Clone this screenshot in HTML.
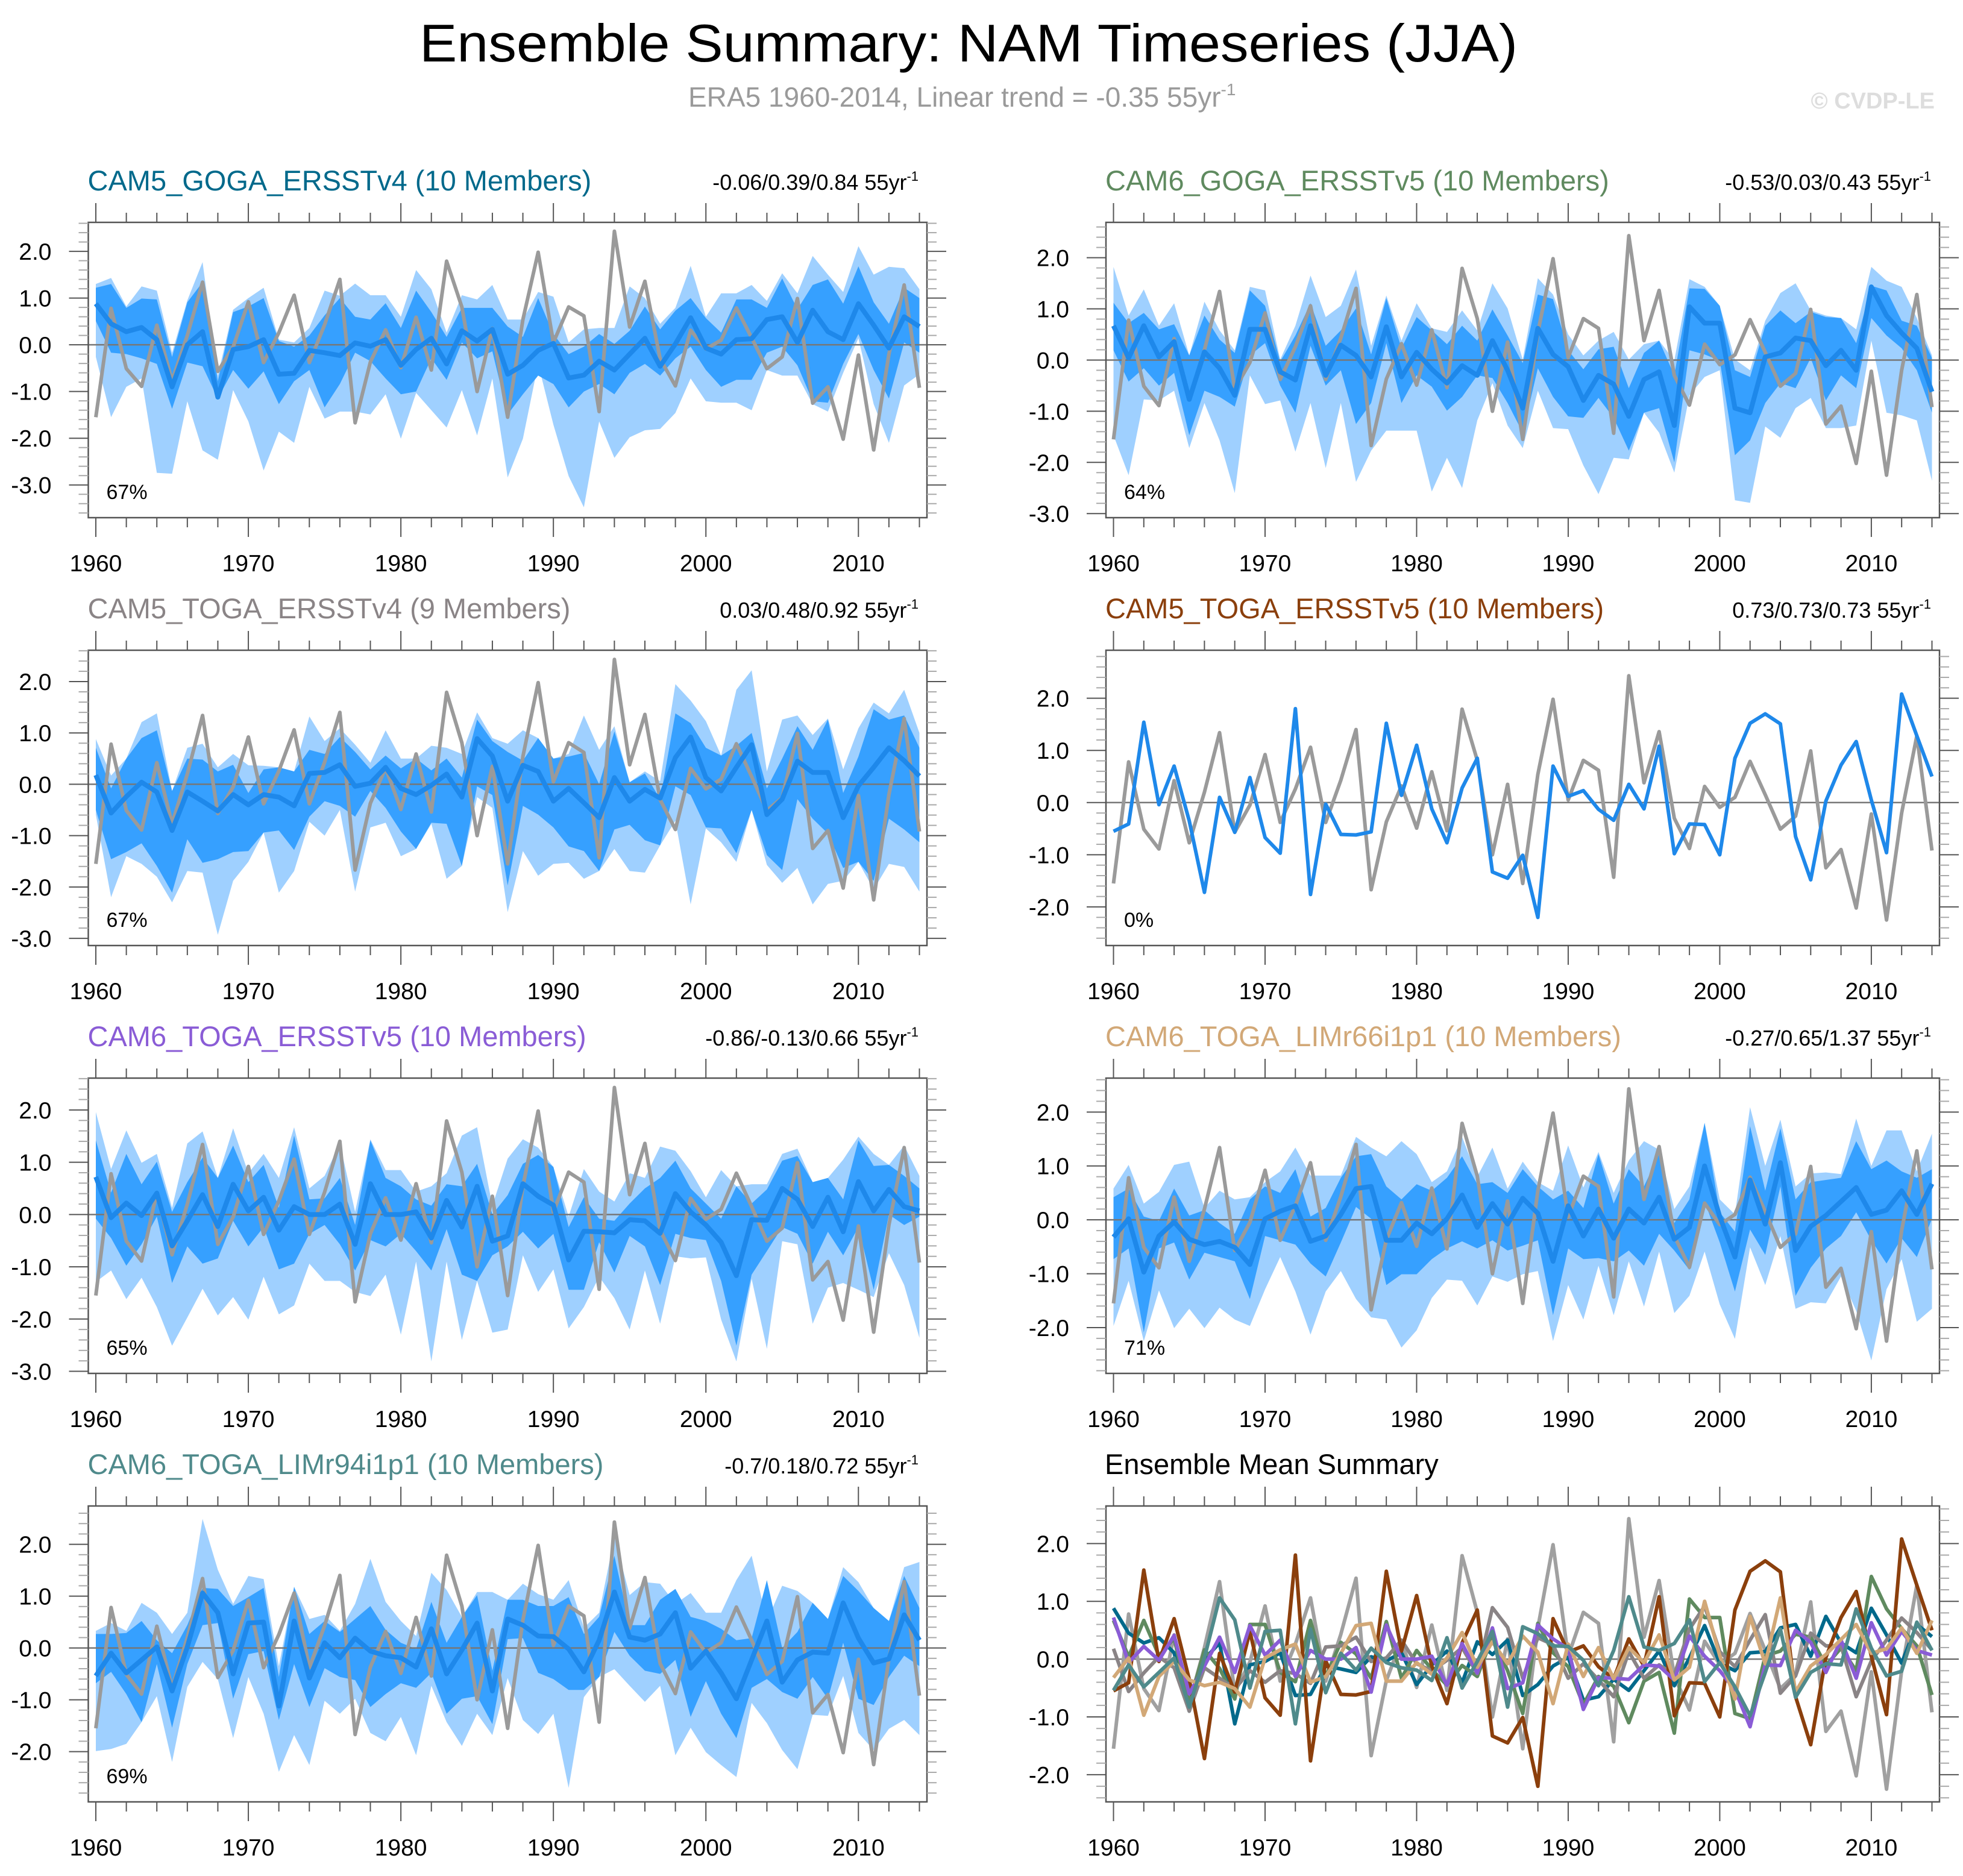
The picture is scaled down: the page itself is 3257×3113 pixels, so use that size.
<!DOCTYPE html>
<html><head><meta charset="utf-8"><title>Ensemble Summary: NAM Timeseries (JJA)</title>
<style>html,body{margin:0;padding:0;background:#fff}svg{display:block}text{font-family:"Liberation Sans",Arial,sans-serif}</style></head>
<body>
<svg id="chart" xmlns="http://www.w3.org/2000/svg" width="3257" height="3113" viewBox="0 0 3257 3113">
<rect width="3257" height="3113" fill="#fff"/>
<text x="696" y="102" font-size="88" textLength="1822" lengthAdjust="spacingAndGlyphs">Ensemble Summary: NAM Timeseries (JJA)</text>
<text x="1142" y="177" font-size="46" fill="#9a9a9a">ERA5 1960-2014, Linear trend = -0.35 55yr<tspan font-size="28" dy="-19">-1</tspan></text>
<text x="3210" y="180" font-size="38" font-weight="bold" fill="#dddddd" text-anchor="end">© CVDP-LE</text>
<g id="panels"></g>
</svg>
<script>
const years = [];
for (let y = 1960; y <= 2014; y++) years.push(y);
const xTickYears = [1960,1970,1980,1990,2000,2010];

const era5 = [-1.55,0.78,-0.51,-0.89,0.42,-0.77,0.2,1.34,-0.57,-0.05, 0.92,-0.38,0.26,1.06,-0.38,0.43,1.4,-1.67,-0.37,0.32, -0.49,0.59,-0.54,1.79,0.81,-1.0,0.35,-1.55,0.54,1.98, 0.05,0.81,0.62,-1.43,2.43,0.38,1.36,-0.3,-0.88,0.31, -0.09,0.1,0.79,0.15,-0.51,-0.26,0.99,-1.25,-0.9,-2.02, -0.22,-2.25,-0.2,1.28,-0.92];

const p1Mean = [0.88,0.45,0.28,0.37,0.11,-0.9,0.0,0.28,-1.12,-0.1, -0.04,0.11,-0.63,-0.61,-0.12,-0.17,-0.23,0.04,-0.03,0.11, -0.44,-0.1,0.14,-0.41,0.3,0.08,0.33,-0.63,-0.44,-0.12, 0.03,-0.71,-0.65,-0.35,-0.54,-0.2,0.14,-0.46,0.02,0.58, -0.07,-0.2,0.11,0.13,0.54,0.6,0.05,0.74,0.28,0.11, 0.88,0.42,-0.07,0.6,0.39];
const p1DarkHi = [1.22,1.3,0.79,0.99,0.97,-0.26,0.91,1.34,-0.78,0.7, 0.82,1.0,0.08,-0.04,0.2,0.63,1.0,0.6,0.54,0.89, 0.36,1.16,0.7,0.17,0.79,0.79,0.79,0.39,0.17,1.0, 0.23,-0.2,-0.04,0.23,0.02,0.3,0.82,0.33,0.73,1.0, 0.57,0.26,0.97,0.97,0.79,1.42,0.76,1.28,1.4,0.88, 1.68,0.91,0.45,1.22,1.0];
const p1DarkLo = [0.51,-0.17,-0.2,-0.29,-0.41,-1.37,-0.38,-0.46,-1.15,-0.54, -0.94,-0.57,-1.27,-0.78,-0.54,-1.34,-0.84,-0.17,-0.35,-0.72, -1.06,-1.0,-0.29,-0.75,0.05,-0.29,-0.14,-1.49,-1.06,-0.66, -0.84,-1.34,-1.0,-0.84,-1.06,-0.6,-0.41,-0.66,-0.29,-0.04, -0.54,-0.9,-0.75,-0.75,-0.17,-0.04,-0.44,-1.21,-1.24,-0.41, 0.23,-0.54,-1.15,0.05,-0.17];
const p1LightHi = [1.3,1.43,0.82,1.25,1.16,-0.17,0.95,1.77,-0.66,0.75, 1.0,1.22,0.11,0.05,0.36,1.16,1.05,1.31,1.06,1.06, 0.6,1.6,1.19,0.26,1.06,0.97,1.28,0.54,0.54,1.13, 1.03,0.05,0.33,0.36,0.36,1.25,1.0,0.45,0.79,1.69, 0.6,1.1,1.1,1.28,0.94,1.53,1.1,1.9,1.5,1.13, 2.11,1.5,1.67,1.64,1.19];
const p1LightLo = [-0.26,-1.55,-0.9,-0.72,-2.74,-2.76,-1.21,-2.26,-2.46,-0.97, -1.64,-2.69,-1.86,-2.1,-0.9,-1.58,-1.43,-1.43,-1.49,-1.06, -2.01,-1.03,-1.4,-1.77,-0.97,-1.94,-0.72,-2.84,-2.01,-0.41, -1.71,-2.81,-3.48,-1.64,-2.42,-1.98,-1.83,-1.8,-1.46,-0.72, -1.21,-1.24,-1.24,-1.4,-0.54,-0.66,-0.66,-1.27,-1.43,-0.6, 0.14,-1.27,-2.1,-0.87,-0.63];

const p2Mean = [0.67,0.04,0.67,0.06,0.36,-0.77,0.16,-0.16,-0.69,0.6, 0.6,-0.23,-0.39,0.67,-0.3,0.29,0.09,-0.33,0.65,-0.33, 0.15,-0.18,-0.45,-0.11,-0.3,0.38,-0.2,-0.94,0.62,0.11, -0.13,-0.79,-0.3,-0.47,-1.1,-0.38,-0.23,-1.28,1.04,0.72, 0.72,-0.94,-1.03,0.06,0.14,0.43,0.38,-0.11,0.19,-0.2, 1.43,0.87,0.53,0.23,-0.62];
const p2DarkHi = [1.12,0.72,0.92,0.6,0.7,0.09,0.87,0.4,0.14,1.36, 1.06,-0.03,0.48,1.11,0.28,0.58,1.01,0.11,1.21,0.23, 0.84,0.58,0.31,0.67,0.38,0.99,0.48,-0.06,1.28,1.19, 0.19,-0.18,0.21,0.26,-0.55,0.14,0.38,-0.3,1.4,1.39, 1.06,-0.2,-0.33,0.67,0.97,0.72,0.94,0.84,0.82,0.33, 1.45,1.36,0.77,0.67,0.04];
const p2DarkLo = [0.19,-0.42,-0.16,-0.5,-0.25,-1.47,-0.6,-0.72,-0.91,0.09, 0.33,-0.5,-1.03,0.28,-0.5,-0.2,-1.25,-0.84,0.33,-0.84, -0.3,-0.52,-0.99,-0.72,-0.3,-0.35,-0.84,-1.42,-0.16,-0.72, -1.1,-1.13,-0.74,-1.13,-1.77,-1.03,-0.94,-2.0,0.19,0.11, -0.01,-1.86,-1.57,-0.84,-0.45,-0.55,0.04,-0.79,-0.3,-0.55, 0.82,0.48,0.23,-0.2,-1.03];
const p2LightHi = [1.82,0.87,1.38,0.67,1.11,0.09,1.14,0.58,0.19,1.43, 1.36,0.01,0.67,1.65,0.84,1.06,1.77,0.28,1.26,0.38, 1.11,0.62,0.55,0.97,0.58,1.5,1.01,0.01,1.6,1.28, 0.5,0.09,0.38,0.55,0.01,0.31,0.38,-0.01,1.58,1.43, 1.06,0.01,-0.2,0.77,1.31,1.5,0.97,0.87,0.82,0.6, 1.82,1.55,1.43,0.82,0.09];
const p2LightLo = [-1.47,-2.25,-0.77,-0.79,-0.6,-1.72,-0.84,-1.57,-2.6,-0.3, -0.86,-0.79,-1.79,-0.84,-2.11,-0.84,-2.38,-1.77,-1.38,-1.38, -1.38,-2.57,-1.91,-2.5,-1.18,-0.45,-1.28,-1.72,-0.6,-1.33, -1.35,-2.06,-2.62,-1.91,-1.94,-1.03,-1.42,-2.2,-0.69,-0.33, -0.2,-2.74,-2.79,-1.3,-1.52,-0.94,-0.74,-1.33,-1.33,-1.28, 0.38,-1.03,-1.08,-1.18,-2.36];

const p3Mean = [0.18,-0.56,-0.24,0.04,-0.15,-0.9,-0.15,-0.33,-0.52,-0.2, -0.4,-0.2,-0.25,-0.42,0.21,0.23,0.38,-0.04,0.02,0.33, -0.08,-0.2,-0.02,0.2,-0.25,0.89,0.55,-0.33,0.37,0.25, -0.33,-0.08,-0.36,-0.65,0.13,-0.33,-0.1,-0.27,0.52,0.92, 0.13,-0.13,0.33,0.77,-0.59,-0.29,0.45,0.23,0.23,-0.65, -0.03,0.33,0.71,0.46,0.16];
const p3DarkHi = [0.71,-0.08,0.5,0.9,1.05,-0.13,0.5,0.48,0.25,0.38, -0.17,0.29,0.33,0.25,0.67,0.59,0.92,0.63,0.29,0.56, 0.31,0.5,0.27,0.5,0.13,1.26,0.84,0.63,0.46,0.9, 0.5,0.54,0.61,0.0,1.03,0.04,0.21,-0.29,1.38,1.19, 0.71,0.56,0.75,1.0,-0.08,0.5,1.13,0.67,1.26,-0.17, 0.54,1.46,1.26,1.34,0.71];
const p3DarkLo = [-0.5,-1.46,-1.32,-1.15,-1.59,-2.11,-1.07,-1.53,-1.46,-1.32, -1.3,-0.94,-0.9,-1.28,-0.63,-0.33,-0.42,-0.63,-0.13,-0.46, -0.92,-1.26,-0.75,-0.77,-1.59,-0.04,-0.21,-1.97,-0.42,-0.59, -0.84,-1.21,-1.3,-1.69,-0.88,-0.79,-1.09,-1.19,-0.04,-0.21, -0.84,-0.86,-1.34,-0.5,-1.38,-1.67,-0.29,-0.67,-0.96,-1.63, -1.51,-1.88,-0.67,-0.88,-1.13];
const p3LightHi = [0.88,0.17,0.5,1.21,1.38,-0.13,0.71,0.79,0.33,0.59, 0.37,0.36,0.33,0.25,1.32,0.84,1.09,0.77,0.42,1.05, 0.5,0.5,0.75,0.71,0.59,1.4,0.9,0.79,1.05,0.9, 0.5,0.59,1.34,0.67,1.13,0.04,0.25,0.06,1.95,1.63, 1.23,0.56,1.84,2.22,0.25,1.26,1.34,0.96,1.28,0.29, 1.09,1.59,1.38,1.84,1.0];
const p3LightLo = [-0.59,-2.2,-1.4,-1.55,-1.8,-2.3,-1.69,-1.72,-2.93,-1.88, -1.51,-0.94,-2.11,-1.69,-0.73,-1.0,-0.5,-2.09,-0.84,-0.75, -1.4,-1.26,-0.77,-1.84,-1.59,-0.25,-0.46,-2.49,-1.3,-1.78, -1.55,-1.53,-1.84,-1.69,-1.26,-1.69,-1.72,-1.19,-0.71,-2.34, -0.86,-1.13,-1.51,-0.5,-1.57,-1.92,-1.63,-2.34,-1.94,-1.88, -1.51,-2.05,-1.55,-1.61,-2.09];

const p4Mean = [-0.55,-0.41,1.54,-0.04,0.7,-0.35,-1.72,0.1,-0.57,0.48, -0.67,-0.97,1.8,-1.76,-0.03,-0.61,-0.62,-0.56,1.52,0.14, 1.1,-0.12,-0.77,0.28,0.85,-1.33,-1.45,-1.01,-2.2,0.7, 0.12,0.23,-0.13,-0.34,0.35,-0.12,1.08,-0.98,-0.41,-0.42, -1.0,0.85,1.52,1.7,1.51,-0.65,-1.48,0.03,0.72,1.17, 0.05,-0.96,2.08,1.28,0.5];

const p5Mean = [0.72,-0.06,0.22,-0.02,0.41,-0.6,-0.12,0.38,-0.23,0.58, 0.07,0.33,-0.3,0.15,0.0,0.0,0.2,-0.57,0.59,0.0, 0.0,0.05,-0.45,0.27,-0.24,0.54,-0.51,-0.41,0.59,0.35, 0.18,-0.87,-0.32,-0.33,-0.35,-0.1,-0.12,-0.36,0.4,0.05, -0.2,-0.53,-1.17,-0.1,-0.11,0.5,0.29,-0.23,0.33,-0.33, 0.63,0.07,0.48,0.15,0.07];
const p5DarkHi = [1.42,0.42,1.16,0.58,1.01,0.05,0.62,1.09,0.7,1.32, 0.62,0.95,0.13,1.51,0.29,0.31,0.7,-0.2,1.42,0.7, 0.54,0.29,0.17,0.58,0.54,0.97,0.0,0.37,0.97,1.14, 0.91,-0.24,0.33,-0.08,-0.12,0.21,0.5,0.7,1.03,0.5, 0.21,-0.08,0.54,0.21,0.48,1.03,1.12,0.62,0.7,0.29, 1.42,0.93,0.95,0.74,0.5];
const p5DarkLo = [-0.08,-0.45,-0.98,-0.57,-0.04,-1.31,-0.61,-0.94,-0.84,-0.12, -0.61,-0.24,-1.05,-0.94,-0.37,-0.2,-0.57,-1.07,-0.49,-0.61, -0.37,-0.7,-1.07,-0.28,-1.15,-1.27,-0.78,-0.61,-0.33,-0.65, -0.37,-1.44,-1.44,-0.53,-1.11,-0.41,-0.61,-1.35,-0.37,-0.45, -0.49,-1.27,-2.51,-1.15,-0.7,-0.24,-0.37,-0.94,-0.33,-0.78, -0.24,-1.44,0.0,-0.2,-0.04];
const p5LightHi = [1.96,0.87,1.61,0.99,1.16,0.13,1.36,1.59,0.7,1.65, 0.79,1.16,0.7,1.67,0.5,0.74,1.36,0.05,1.44,0.85, 0.85,0.44,0.54,0.79,1.51,1.67,0.17,1.07,1.44,1.28, 0.91,-0.04,0.87,0.44,0.25,0.79,0.7,1.3,1.22,0.83, 0.33,0.85,0.54,0.58,0.58,1.16,1.26,0.62,0.7,1.05, 1.49,1.16,0.95,1.32,0.74];
const p5LightLo = [-1.29,-1.07,-1.62,-1.21,-1.77,-2.51,-1.97,-1.42,-1.93,-1.58, -2.01,-1.19,-1.91,-1.74,-0.94,-1.27,-1.27,-1.48,-1.56,-1.15, -2.3,-0.9,-2.81,-0.9,-2.4,-1.27,-2.26,-2.2,-0.78,-1.48, -1.05,-2.18,-1.77,-1.19,-1.6,-2.2,-1.07,-2.09,-0.8,-0.84, -0.82,-2.01,-2.81,-1.23,-2.57,-0.51,-0.57,-2.09,-1.4,-1.31, -1.44,-1.58,-0.74,-1.35,-2.36];

const p6Mean = [-0.32,0.02,-0.97,-0.3,-0.04,-0.36,-0.46,-0.4,-0.51,-0.83, 0.02,0.16,0.26,-0.4,-0.3,0.1,0.58,0.62,-0.38,-0.38, -0.06,-0.26,0.02,0.46,-0.14,0.3,-0.08,0.4,0.12,-0.77, 0.26,-0.3,0.2,-0.34,0.2,-0.06,0.42,-0.36,-0.14,1.0, 0.06,-0.69,0.74,-0.08,1.06,-0.57,-0.12,0.08,0.34,0.6, 0.1,0.18,0.54,0.1,0.67];
const p6DarkHi = [0.42,0.58,0.06,-0.02,0.58,0.08,0.18,-0.06,-0.26,0.38, 0.62,0.5,0.94,0.06,0.22,0.78,1.18,1.22,0.62,0.38, 0.66,0.54,0.78,1.18,0.66,0.7,0.5,0.94,0.62,0.38, 0.54,0.22,1.22,0.3,0.94,0.62,1.22,-0.06,0.38,1.8, 0.14,-0.22,1.74,0.54,1.7,0.38,0.7,0.74,0.78,1.46, 0.94,1.1,0.9,0.78,0.94];
const p6DarkLo = [-0.73,-0.53,-2.09,-0.53,-0.42,-1.11,-0.61,-0.69,-0.77,-1.47, -0.3,-0.38,-0.46,-0.81,-1.05,-0.42,0.24,0.02,-1.21,-1.01, -1.01,-0.73,-0.53,-0.4,-0.53,-0.38,-0.57,-0.48,-0.38,-1.77, -0.53,-0.73,-0.71,-0.77,-0.57,-0.85,-0.26,-0.57,-0.93,0.34, -0.42,-1.33,-0.18,-0.65,0.62,-1.41,-0.89,-0.53,-0.3,0.14, -0.38,-0.81,-0.34,-0.69,0.02];
const p6LightHi = [0.58,1.02,0.3,0.52,1.02,1.08,0.22,0.54,0.38,0.42, 0.7,0.9,1.34,0.82,0.82,0.82,1.54,1.34,1.18,1.46, 1.22,0.7,0.9,1.54,0.8,1.34,0.58,1.08,0.7,0.54, 1.38,0.6,1.26,0.5,1.1,1.46,1.3,0.2,0.62,1.8, 0.38,0.1,2.09,1.0,1.86,0.62,0.86,0.88,0.85,1.88, 1.0,1.66,1.66,0.9,1.6];
const p6LightLo = [-1.97,-1.13,-2.25,-1.31,-2.01,-1.65,-2.01,-1.63,-1.85,-1.97, -1.29,-0.69,-1.33,-2.13,-1.33,-0.95,-1.47,-1.81,-1.85,-2.37, -2.05,-1.45,-1.11,-1.13,-1.59,-1.05,-1.15,-1.01,-0.95,-2.25, -1.21,-1.85,-0.85,-1.77,-0.77,-1.61,-0.59,-1.73,-1.41,-0.59, -1.57,-2.21,-0.51,-1.21,-0.3,-1.65,-1.53,-1.55,-1.05,-1.69, -2.61,-1.29,-0.73,-1.89,-1.65];

const p7Mean = [-0.54,-0.1,-0.48,-0.23,0.02,-0.83,0.02,1.06,0.68,-0.5, 0.48,0.5,-1.12,0.52,-0.58,0.1,-0.19,0.19,-0.06,-0.15, -0.19,-0.37,0.37,-0.5,-0.04,0.48,-0.83,0.56,0.44,0.23, 0.22,-0.02,-0.46,0.15,1.08,0.21,0.15,0.27,0.68,-0.39, -0.06,-0.48,-0.98,-0.23,0.52,-0.66,-0.23,-0.08,-0.1,0.87, 0.19,-0.29,-0.21,0.64,0.15];
const p7DarkHi = [0.27,0.27,0.29,0.52,0.15,-0.1,0.44,1.16,1.14,0.81, 0.98,1.16,-0.56,1.18,0.27,0.52,0.31,0.56,0.81,0.35, 0.1,-0.02,0.89,0.1,0.6,1.02,-0.44,0.93,0.93,0.81, 0.81,0.98,0.27,0.6,1.78,0.44,0.44,0.93,1.14,0.6, 0.52,0.37,0.15,0.19,1.31,0.0,0.31,0.87,0.56,1.39, 1.1,0.77,0.52,1.39,0.77];
const p7DarkLo = [-0.68,-0.46,-0.89,-1.43,-0.31,-1.54,-0.31,0.44,0.48,-0.98, -0.12,-0.06,-1.39,-0.31,-1.14,-0.39,-0.56,-0.62,-1.14,-0.89, -0.68,-0.77,-0.48,-1.27,-0.98,-0.93,-1.47,0.17,0.19,-0.48, -0.6,-0.81,-0.81,-0.56,0.31,-0.15,-0.44,-0.5,-0.23,-1.33, -0.64,-1.27,-1.74,-0.77,-0.6,-0.85,-0.98,-0.56,-0.98,0.1, -0.98,-1.1,-0.56,-0.15,-0.35];
const p7LightHi = [0.33,0.48,0.33,0.87,0.68,0.27,0.68,2.49,1.51,0.85, 1.39,1.33,-0.35,1.18,0.56,0.64,0.33,0.85,1.72,0.89, 0.52,0.23,1.45,1.12,0.6,1.08,1.08,0.93,1.24,1.04, 0.93,1.31,0.39,0.68,2.14,1.02,1.27,1.24,0.85,1.06, 0.68,0.68,1.31,1.78,0.52,1.2,1.1,0.87,0.56,1.56, 1.27,0.77,0.52,1.56,1.66];
const p7LightLo = [-1.99,-1.95,-1.85,-1.43,-0.93,-2.2,-0.75,-0.27,-0.6,-1.74, -0.56,-1.27,-2.39,-1.68,-2.26,-1.02,-1.27,-0.98,-1.64,-1.8, -1.33,-2.07,-0.73,-1.43,-1.89,-1.27,-1.68,-0.58,-1.39,-1.66, -1.27,-2.7,-0.95,-0.56,-0.41,-0.73,-1.04,-0.73,-2.07,-1.54, -2.01,-2.26,-2.49,-1.06,-1.45,-1.97,-2.34,-1.29,-1.31,-0.54, -1.64,-1.97,-1.56,-1.39,-1.68];

const panelDefs = [
 {key:'cam5-goga-ersstv4', fx:146.5, fw:1391.5, fy:369, fh:490, vTop:2.62, vBot:-3.70, yTicks:[2,1,0,-1,-2,-3], title:'CAM5_GOGA_ERSSTv4 (10 Members)', color:'#00698b', stat:'-0.06/0.39/0.84', pct:'67%', mean:p1Mean, dHi:p1DarkHi, dLo:p1DarkLo, lHi:p1LightHi, lLo:p1LightLo},
 {key:'cam6-goga-ersstv5', fx:1835, fw:1383, fy:369, fh:490, vTop:2.69, vBot:-3.08, yTicks:[2,1,0,-1,-2,-3], title:'CAM6_GOGA_ERSSTv5 (10 Members)', color:'#5f8a5f', stat:'-0.53/0.03/0.43', pct:'64%', mean:p2Mean, dHi:p2DarkHi, dLo:p2DarkLo, lHi:p2LightHi, lLo:p2LightLo},
 {key:'cam5-toga-ersstv4', fx:146.5, fw:1391.5, fy:1079, fh:490, vTop:2.61, vBot:-3.14, yTicks:[2,1,0,-1,-2,-3], title:'CAM5_TOGA_ERSSTv4 (9 Members)', color:'#8a8486', stat:'0.03/0.48/0.92', pct:'67%', mean:p3Mean, dHi:p3DarkHi, dLo:p3DarkLo, lHi:p3LightHi, lLo:p3LightLo},
 {key:'cam5-toga-ersstv5', fx:1835, fw:1383, fy:1079, fh:490, vTop:2.92, vBot:-2.74, yTicks:[2,1,0,-1,-2], title:'CAM5_TOGA_ERSSTv5 (10 Members)', color:'#8b3f0c', stat:'0.73/0.73/0.73', pct:'0%', mean:p4Mean, dHi:null, dLo:null, lHi:null, lLo:null},
 {key:'cam6-toga-ersstv5', fx:146.5, fw:1391.5, fy:1789, fh:490, vTop:2.61, vBot:-3.04, yTicks:[2,1,0,-1,-2,-3], title:'CAM6_TOGA_ERSSTv5 (10 Members)', color:'#8a5cd6', stat:'-0.86/-0.13/0.66', pct:'65%', mean:p5Mean, dHi:p5DarkHi, dLo:p5DarkLo, lHi:p5LightHi, lLo:p5LightLo},
 {key:'cam6-toga-limr66i1p1', fx:1835, fw:1383, fy:1789, fh:490, vTop:2.63, vBot:-2.85, yTicks:[2,1,0,-1,-2], title:'CAM6_TOGA_LIMr66i1p1 (10 Members)', color:'#d2a877', stat:'-0.27/0.65/1.37', pct:'71%', mean:p6Mean, dHi:p6DarkHi, dLo:p6DarkLo, lHi:p6LightHi, lLo:p6LightLo},
 {key:'cam6-toga-limr94i1p1', fx:146.5, fw:1391.5, fy:2499, fh:491, vTop:2.74, vBot:-2.97, yTicks:[2,1,0,-1,-2], title:'CAM6_TOGA_LIMr94i1p1 (10 Members)', color:'#4f8a8b', stat:'-0.7/0.18/0.72', pct:'69%', mean:p7Mean, dHi:p7DarkHi, dLo:p7DarkLo, lHi:p7LightHi, lLo:p7LightLo},
 {key:'ensemble-mean-summary', fx:1835, fw:1383, fy:2499, fh:491, vTop:2.65, vBot:-2.47, yTicks:[2,1,0,-1,-2], title:'Ensemble Mean Summary', color:'#000000', stat:null, pct:null, mean:null, summary:true}
];
const summaryColors = ['#00698b','#5f8a5f','#8a8486','#8b3f0c','#8a5cd6','#d2a877','#4f8a8b'];

const NS = 'http://www.w3.org/2000/svg';
const root = document.getElementById('panels');
function mk(tag, attrs, parent){
  const e = document.createElementNS(NS, tag);
  for (const k in attrs) e.setAttribute(k, attrs[k]);
  parent.appendChild(e);
  return e;
}

panelDefs.forEach(function(p){
  const g = mk('g', {}, root);
  
  
  const x0 = p.fx + 12.5, x1 = p.fx + p.fw - 12.5;
  const xs = function(yr){ return x0 + (yr - 1960) * (x1 - x0) / 54; };
  const ys = function(v){ return p.fy + (p.vTop - v) * p.fh / (p.vTop - p.vBot); };
  const right = p.fx + p.fw, bottom = p.fy + p.fh;

  const t = mk('text', {x: p.key === 'ensemble-mean-summary' ? p.fx - 2 : p.fx - 1, y: p.fy - 53, 'font-size': 47, fill: p.color}, g);
  t.textContent = p.title;
  
  

  if (p.stat){
    const s = mk('text', {x: right - 14, y: p.fy - 54, 'font-size': 36, 'text-anchor':'end'}, g);
    s.textContent = p.stat + ' 55yr';
    const sup = mk('tspan', {'font-size': 22, dy: -15}, s);
    sup.textContent = '-1';
    
    
  }

  const clipId = 'clip-' + p.key;
  const cp = mk('clipPath', {id: clipId}, g);
  mk('rect', {x: p.fx, y: p.fy, width: p.fw, height: p.fh}, cp);
  const plot = mk('g', {'clip-path': 'url(#' + clipId + ')'}, g);

  function band(hi, lo, fill, name){
    let d = '';
    years.forEach(function(yr, i){ d += (i ? 'L' : 'M') + xs(yr).toFixed(1) + ',' + ys(hi[i]).toFixed(1); });
    for (let i = years.length - 1; i >= 0; i--) d += 'L' + xs(years[i]).toFixed(1) + ',' + ys(lo[i]).toFixed(1);
    const b = mk('path', {d: d + 'Z', fill: fill}, plot);
    
    
  }
  function line(vals, color, w, name){
    const d = vals.map(function(v, i){ return (i ? 'L' : 'M') + xs(years[i]).toFixed(1) + ',' + ys(v).toFixed(1); }).join('');
    const l = mk('path', {d: d, fill: 'none', stroke: color, 'stroke-width': w, 'stroke-linejoin': 'round'}, plot);
    
    
  }

  if (p.lHi){
    band(p.lHi, p.lLo, '#9fd0ff', 'ensemble-range-band');
    band(p.dHi, p.dLo, '#36a0ff', 'ensemble-spread-band');
  }
  const z = mk('line', {x1: p.fx, x2: right, y1: ys(0), y2: ys(0), stroke: '#777', 'stroke-width': 2.5}, plot);
  
  

  if (p.summary){
    line(era5, '#a0a0a0', 6, 'era5-line');
    const means = [p1Mean, p2Mean, p3Mean, p4Mean, p5Mean, p6Mean, p7Mean];
    means.forEach(function(m, i){ line(m, summaryColors[i], 6, 'ensemble-mean-line-' + (i + 1)); });
  } else if (!p.lHi){
    line(era5, '#9a9a9a', 6, 'era5-line');
    line(p.mean, '#1e88ea', 6, 'ensemble-member-line');
  } else {
    line(era5, '#9a9a9a', 6, 'era5-line');
    line(p.mean, '#1e88ea', 8, 'ensemble-mean-line');
  }

  const fr = mk('rect', {x: p.fx, y: p.fy, width: p.fw, height: p.fh, fill: 'none', stroke: '#555', 'stroke-width': 2.5}, g);
  
  

  years.forEach(function(yr){
    const major = (yr % 10 === 0), minor = (yr % 2 === 0);
    if (!major && !minor && yr !== 2014) return;
    const len = major ? 32 : 16, x = xs(yr);
    mk('line', {x1: x, x2: x, y1: p.fy, y2: p.fy - len, stroke: '#555', 'stroke-width': 2}, g);
    mk('line', {x1: x, x2: x, y1: bottom, y2: bottom + len, stroke: '#555', 'stroke-width': 2}, g);
  });
  xTickYears.forEach(function(yr){
    const tl = mk('text', {x: xs(yr), y: bottom + 89, 'font-size': 39, 'text-anchor': 'middle'}, g);
    tl.textContent = String(yr);
    
    
  });
  for (let k = Math.ceil(p.vBot * 5); k <= Math.floor(p.vTop * 5); k++){
    const v = k / 5, y = ys(v), major = (k % 5 === 0);
    const len = major ? 32 : 16;
    mk('line', {x1: p.fx, x2: p.fx - len, y1: y, y2: y, stroke: major ? '#555' : '#aaa', 'stroke-width': 2}, g);
    mk('line', {x1: right, x2: right + len, y1: y, y2: y, stroke: major ? '#555' : '#aaa', 'stroke-width': 2}, g);
  }
  p.yTicks.forEach(function(v){
    const yl = mk('text', {x: p.fx - 61, y: ys(v) + 14, 'font-size': 39, 'text-anchor': 'end'}, g);
    yl.textContent = v.toFixed(1);
    
    
  });
  if (p.pct){
    const pt = mk('text', {x: p.fx + 30, y: bottom - 31, 'font-size': 34}, g);
    pt.textContent = p.pct;
    
    
  }
});
</script>
</body></html>
